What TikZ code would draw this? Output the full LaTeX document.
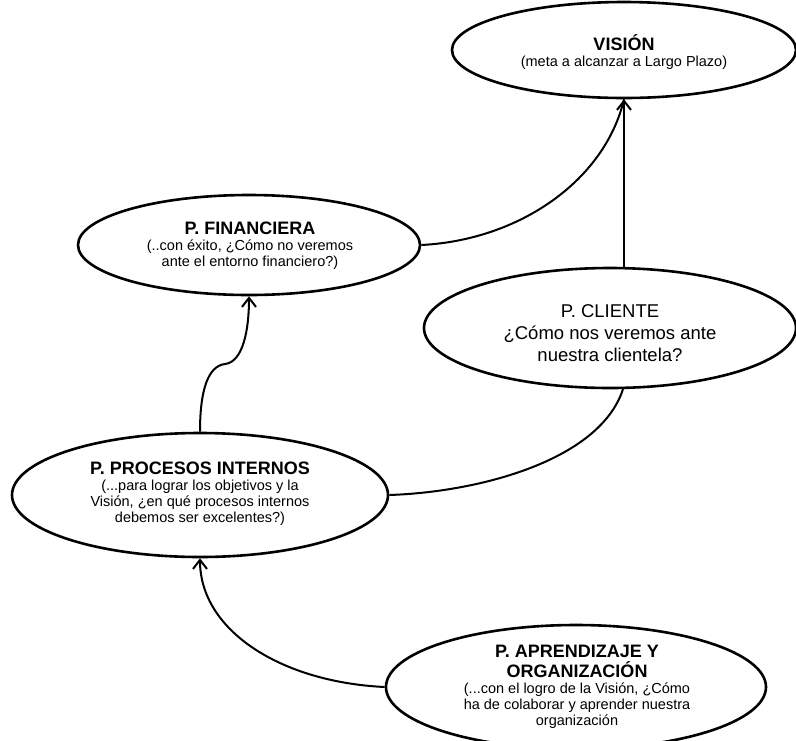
\documentclass[tikz,border=0pt]{standalone}
\usepackage{fontspec}
\setmainfont{Liberation Sans}
\usetikzlibrary{shapes.geometric,arrows.meta}
\newcommand\headf{\fontsize{18}{18}\selectfont\bfseries}
\newcommand\bodyf{\fontsize{14.5}{16}\selectfont}
\begin{document}
\begin{tikzpicture}[x=1pt,y=-1pt,
  oval/.style={ellipse,draw=black,line width=2.6pt,fill=white,inner sep=0pt},
  link/.style={line width=2pt,black},
  tip/.style={-{Straight Barb[length=9pt,width=14pt]}},
  label text/.style={align=center,inner sep=0pt,font=\bodyf}
]
\useasboundingbox (0,0) rectangle (796,740);

% the five perspectives
\node[oval,minimum width=344pt,minimum height=96pt] (vis) at (624,50) {};
\node[oval,minimum width=342pt,minimum height=100pt] (fin) at (249,245) {};
\node[oval,minimum width=372pt,minimum height=120pt] (cli) at (610,328) {};
\node[oval,minimum width=376pt,minimum height=124pt] (pro) at (200,495) {};
\node[oval,minimum width=380pt,minimum height=124pt] (apr) at (576,687) {};

% their texts
\node[label text] (visT) at (624,52) {{\headf VISIÓN}\\(meta a alcanzar a Largo Plazo)};
\node[label text] (finT) at (250,246) {{\headf P. FINANCIERA}\\(..con éxito, ¿Cómo no veremos\\ante el entorno financiero?)};
\node[label text,font=\fontsize{18.5}{22}\selectfont] (cliT) at (610,333) {P. CLIENTE\\¿Cómo nos veremos ante\\nuestra clientela?};
\node[label text] (proT) at (200,494) {{\headf P. PROCESOS INTERNOS}\\(...para lograr los objetivos y la\\Visión, ¿en qué procesos internos\\debemos ser excelentes?)};
\node[label text] (aprT) at (577,687) {{\headf P. APRENDIZAJE Y}\\[3pt]{\headf ORGANIZACIÓN}\\(...con el logro de la Visión, ¿Cómo\\ha de colaborar y aprender nuestra\\organización};

% connectors
\draw[link] (fin.east) .. controls (520,240) and (605,180) .. (vis.south);
\draw[link,tip] (cli.north -| vis.south) -- (vis.south);
\draw[link,tip] (pro.north) .. controls (200,390) and (208,366) .. (225,364)
                 .. controls (243,362) and (249,330) .. (fin.south);
\draw[link] (cli.-78) .. controls (600,460) and (480,492) .. (pro.east);
\draw[link,tip] (apr.west) .. controls (280,682) and (200,630) .. (pro.south);
\end{tikzpicture}
\end{document}
